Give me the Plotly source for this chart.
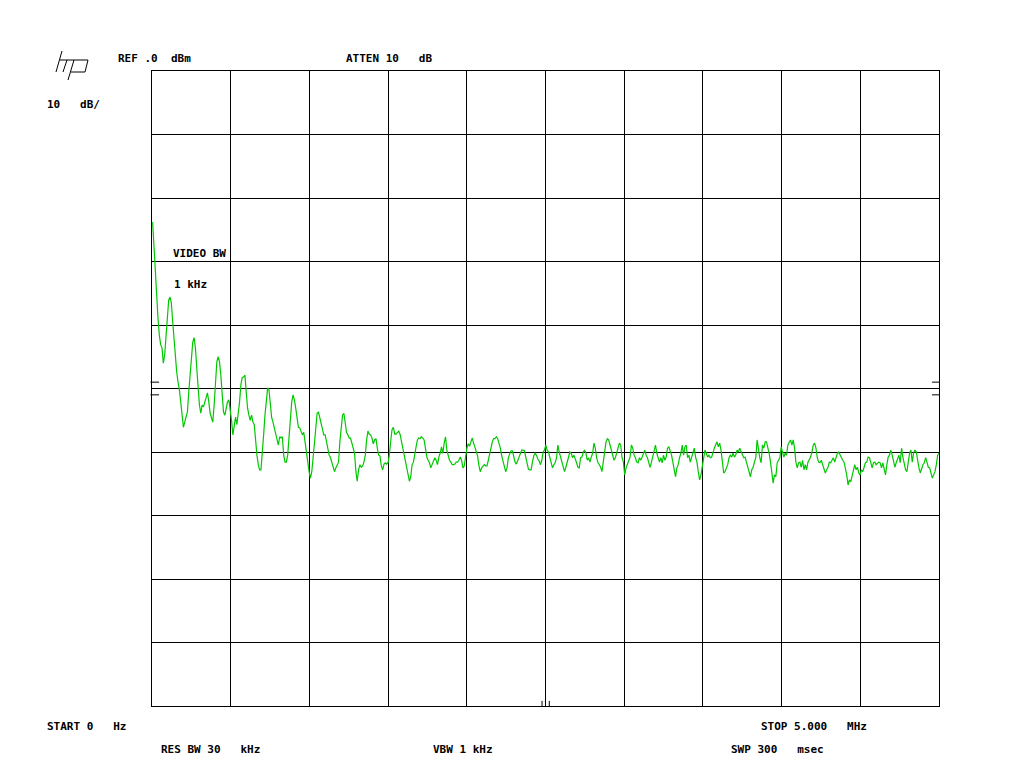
import numpy as np
import plotly.graph_objects as go

# Sweep: 0 Hz .. 5 MHz, REF 0 dBm, 10 dB/div (dBm)
start_mhz = 0.0
stop_mhz = 5.0
ref_dbm = 0.0
db_per_div = 10

amp_seg1 = [
    -23.8, -27.9, -30.6, -35.7, -38.9, -41.6, -43.1, -43.6, -46.0, -44.7, -41.6, -38.4, -36.1, -35.6, -36.5, -39.5,
    -42.7, -45.2, -47.4, -49.0, -50.2, -52.1, -54.2, -56.1, -55.3, -54.5, -53.7, -50.6, -47.4, -44.7, -42.7, -42.0,
    -43.6, -46.8, -50.6, -52.6, -53.9, -52.6, -52.9, -52.1, -51.5, -50.7, -52.1, -53.9, -54.6, -55.3, -52.6, -48.3,
    -45.8, -45.0, -45.8, -47.9, -51.0, -53.7, -54.2, -53.1, -52.1, -51.8, -53.1, -55.0, -57.3, -56.2, -54.5, -55.7,
    -54.2, -52.1, -49.4, -48.3, -48.2, -47.9, -50.6, -53.1, -54.2, -55.0, -54.2, -55.3, -55.7, -58.4, -60.5, -62.0,
    -62.8, -62.8, -60.5, -57.3, -54.2, -51.3, -49.9, -50.2, -52.6, -54.6, -55.3, -56.2, -57.3, -58.4, -58.9, -57.6,
    -57.8, -57.6, -60.5, -61.6, -61.6, -60.5, -57.3, -54.2, -52.1, -51.0, -51.8, -53.1, -54.6, -56.1, -56.2, -56.9,
    -57.3, -56.9, -58.4, -60.5, -61.6, -63.1, -64.1, -63.1, -60.9, -58.4, -55.3, -53.9, -53.7, -54.6, -55.7, -56.9,
    -57.3, -57.3, -58.4, -60.0, -60.5, -60.9, -61.6, -62.5, -63.1, -62.5, -62.0, -61.6, -58.4, -55.7, -54.2, -53.9,
    -55.3, -56.9, -57.3, -57.8, -57.8,
]
amp_seg2 = [
    -58.6, -59.4, -60.2, -63.1, -64.6, -62.8, -62.0, -62.4, -62.2, -61.6, -60.5, -58.1, -56.7, -57.2, -57.3, -57.8,
    -58.7, -58.1, -57.9, -59.4, -60.5, -60.6, -62.2, -62.8, -61.9, -61.7, -61.9, -61.7, -60.5, -58.3, -56.5, -56.1,
    -57.2, -57.2, -56.9, -56.7, -57.2, -58.3, -59.2, -60.5, -61.7, -62.5, -63.3, -64.6, -63.9, -62.0, -61.6, -60.0,
    -59.2, -58.1, -57.8, -57.9, -57.6, -57.8, -58.1, -59.4, -60.8, -61.3, -61.7, -62.5, -62.0, -61.7, -60.9, -61.3,
    -62.0, -60.8, -60.2, -59.2, -60.2, -58.6, -57.6, -59.7, -60.5, -61.3, -61.6, -62.0, -62.0, -61.9, -61.6, -61.6,
    -61.3, -60.8, -61.3, -62.5, -62.2, -60.5, -59.4, -58.7, -59.1, -58.4, -57.8, -58.6, -59.2, -59.7, -60.6, -62.2,
    -63.1, -62.5, -62.2, -62.0, -62.2, -62.2, -61.3, -60.5, -59.4, -58.4, -57.9, -57.9, -57.6, -57.9, -58.6, -59.4,
    -60.6, -61.4, -62.4, -63.1, -62.5, -60.9, -60.3, -59.8, -59.8, -60.8, -61.6, -61.9, -61.3, -60.9, -60.3, -59.7,
    -59.7, -59.8, -60.8, -62.0, -62.7, -62.8, -62.8, -61.6, -60.6, -60.2, -60.5, -61.1, -61.4, -62.0, -61.3, -60.0,
    -59.7,
]
amp_seg3 = [
    -58.9, -59.7, -60.0, -60.8, -61.6, -62.5, -62.0, -61.7, -60.9, -58.9, -60.0, -60.9, -61.6, -62.5, -63.1, -62.4,
    -61.6, -60.8, -60.0, -60.2, -60.9, -60.5, -61.3, -61.7, -62.4, -62.5, -60.9, -60.8, -60.0, -59.7, -60.2, -61.3,
    -60.9, -61.6, -60.8, -60.2, -58.6, -59.4, -60.9, -61.7, -62.0, -62.4, -63.1, -61.6, -60.5, -58.4, -57.9, -58.1,
    -58.9, -59.7, -60.5, -61.3, -60.9, -60.0, -59.2, -58.6, -58.9, -60.9, -61.6, -63.6, -62.5, -62.0, -61.3, -60.8,
    -58.9, -59.4, -60.5, -60.9, -61.6, -61.7, -60.9, -61.3, -60.8, -60.2, -59.7, -60.5, -60.9, -61.7, -62.4, -61.6,
    -60.8, -59.7, -58.9, -60.2, -60.9, -61.6, -60.9, -61.7, -60.5, -61.3, -60.8, -59.4, -59.2, -59.7, -60.5, -61.6,
    -63.1, -63.9, -62.5, -62.0, -60.9, -60.2, -58.9, -60.5, -59.2, -58.9, -60.9, -60.5, -61.6, -60.8, -60.0, -59.4,
    -60.8, -61.6, -63.1, -64.4, -63.6, -62.4, -60.8, -59.7, -60.2, -60.8, -60.5, -60.9, -60.8, -60.0, -59.4, -58.9,
    -58.4, -59.2, -58.6, -59.7, -61.6, -63.3, -63.1, -62.5, -62.0, -60.9, -60.5, -60.8, -60.2, -60.8, -60.5, -59.7,
    -60.0,
]
amp_seg4 = [
    -59.4, -60.0, -60.5, -60.9, -60.8, -61.6, -62.5, -63.1, -63.9, -62.8, -62.4, -61.6, -60.9, -58.1, -60.0, -60.9,
    -61.7, -58.9, -59.4, -58.4, -58.4, -59.2, -60.2, -61.6, -63.6, -64.9, -63.6, -63.9, -61.7, -61.3, -60.9, -59.2,
    -60.0, -60.8, -60.2, -60.5, -58.9, -58.4, -58.1, -58.9, -58.1, -59.4, -61.6, -62.5, -61.7, -61.6, -62.4, -61.3,
    -62.8, -62.0, -62.8, -61.6, -61.3, -60.8, -60.0, -58.9, -58.6, -59.4, -60.9, -61.6, -61.7, -61.3, -62.0, -62.5,
    -63.3, -62.8, -62.4, -61.6, -61.7, -61.3, -60.9, -61.6, -60.8, -60.2, -60.0, -60.5, -60.8, -61.3, -61.6, -62.5,
    -63.6, -65.2, -64.4, -64.7, -63.6, -63.1, -62.0, -62.8, -62.4, -63.3, -63.6, -62.8, -63.1, -62.4, -61.7, -61.6,
    -60.8, -60.9, -62.0, -62.5, -61.7, -61.6, -62.0, -61.7, -61.6, -61.7, -62.5, -61.7, -62.5, -63.6, -62.0, -60.8,
    -60.5, -59.7, -60.5, -61.6, -62.4, -61.7, -60.9, -60.5, -61.7, -59.4, -60.8, -62.0, -62.8, -63.1, -61.6, -60.2,
    -59.7, -61.6, -60.2, -59.7, -60.0, -61.6, -62.5, -63.3, -62.5, -62.0, -61.7, -60.9, -61.6, -62.4, -62.5, -63.6,
    -64.1, -63.6, -63.1, -62.0, -60.5, -60.2,
]

amplitude_dbm = amp_seg1 + amp_seg2 + amp_seg3 + amp_seg4
freq_mhz = np.linspace(0.004, stop_mhz, len(amplitude_dbm))

# marker levels on the display edges (dBm) and bottom-centre ticks (MHz)
edge_marker_dbm = [-49.0, -51.0]
centre_marker_mhz = [2.478, 2.524]

FONT = "DejaVu Sans Mono"
GREEN = "rgb(0,200,0)"

# page layout (the page body adds an 8 px offset)
W, H = 1016, 760
ML, MR, MT, MB = 144, 85, 63, 62
PW, PH = W - ML - MR, H - MT - MB


def page_to_paper(px, py):
    """Convert a page pixel position to paper coordinates (for decorations)."""
    return (px - 8 - ML) / PW, (H - MB - (py - 8)) / PH


fig = go.Figure()
fig.add_trace(go.Scatter(
    x=freq_mhz, y=amplitude_dbm, mode="lines",
    line=dict(color=GREEN, width=1.2), hoverinfo="skip", showlegend=False,
))

axis_common = dict(
    showgrid=True, gridcolor="black", gridwidth=1,
    showline=True, linecolor="black", linewidth=1, mirror=True,
    zeroline=False, showticklabels=False, ticks="",
)
fig.update_xaxes(range=[start_mhz, stop_mhz], dtick=(stop_mhz - start_mhz) / 10, **axis_common)
fig.update_yaxes(range=[ref_dbm - 10 * db_per_div, ref_dbm], dtick=db_per_div, **axis_common)

shapes = []
for lvl in edge_marker_dbm:
    shapes.append(dict(type="line", xref="paper", yref="y", x0=-0.002, x1=0.009, y0=lvl, y1=lvl,
                       line=dict(color="black", width=1)))
    shapes.append(dict(type="line", xref="paper", yref="y", x0=0.991, x1=1.0, y0=lvl, y1=lvl,
                       line=dict(color="black", width=1)))
for f in centre_marker_mhz:
    shapes.append(dict(type="line", xref="x", yref="paper", x0=f, x1=f, y0=0, y1=0.008,
                       line=dict(color="black", width=1)))

# hp logo strokes (page pixel positions)
logo_strokes = [
    ((62, 51), (56, 72)),   # h stem
    ((60, 60), (88, 60)),   # shoulder / top of p
    ((67, 60), (63, 72)),   # h right leg
    ((74, 60), (68, 80)),   # p stem
    ((71, 72), (85, 72)),   # p bowl bottom
    ((88, 60), (85, 72)),   # p bowl right
]
for (ax_, ay_), (bx_, by_) in logo_strokes:
    x0, y0 = page_to_paper(ax_, ay_)
    x1, y1 = page_to_paper(bx_, by_)
    shapes.append(dict(type="line", xref="paper", yref="paper", x0=x0, y0=y0, x1=x1, y1=y1,
                       line=dict(color="black", width=1)))
fig.update_layout(shapes=shapes)

NB = "\u00a0"
labels = [
    ("REF .0" + NB * 2 + "dBm", 116, 59),
    ("ATTEN 10" + NB * 3 + "dB", 344, 59),
    ("10" + NB * 3 + "dB/", 45, 105),
    ("VIDEO BW", 171, 254),
    ("1 kHz", 172, 284),
    ("START 0" + NB * 3 + "Hz", 45, 726),
    ("STOP 5.000" + NB * 3 + "MHz", 759, 726),
    ("RES BW 30" + NB * 3 + "kHz", 159, 749),
    ("VBW 1 kHz", 431, 749),
    ("SWP 300" + NB * 3 + "msec", 729, 749),
]
annotations = []
for txt, px, py in labels:
    ppx, ppy = page_to_paper(px, py)
    annotations.append(dict(text="<b>" + txt + "</b>", x=ppx, y=ppy, xref="paper", yref="paper",
                            xanchor="left", yanchor="middle", showarrow=False,
                            font=dict(family=FONT, size=11, color="black")))
fig.update_layout(annotations=annotations)

fig.update_layout(
    width=W, height=H,
    margin=dict(l=ML, r=MR, t=MT, b=MB),
    paper_bgcolor="white", plot_bgcolor="white",
    showlegend=False,
)

fig.write_html("out.html")
